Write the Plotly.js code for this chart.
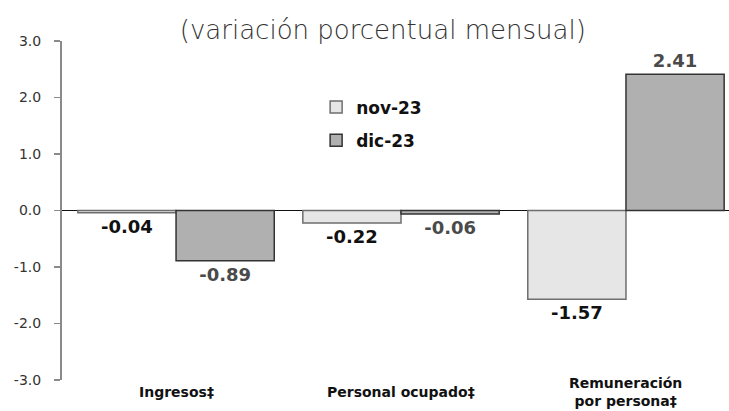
<!DOCTYPE html>
<html>
<head>
<meta charset="utf-8">
<script src="https://cdn.plot.ly/plotly-3.0.1.min.js"></script>
<style>html,body{margin:0;padding:0;background:#fff;}#chart{width:729px;height:411px;}</style>
</head>
<body>
<div id="chart"></div>
<script>
const categories = ["Ingresos‡", "Personal ocupado‡", "Remuneración<br>por persona‡"];
const seriesNames = ["nov-23", "dic-23"];
const nov23 = [-0.04, -0.22, -1.57];
const dic23 = [-0.89, -0.06, 2.41];
const yTicks = [-3, -2, -1, 0, 1, 2, 3];
const yTickLabels = ["-3.0", "-2.0", "-1.0", "0.0", "1.0", "2.0", "3.0"];

const boldFont = "DejaVu Sans, Liberation Sans, sans-serif";

const traces = [
  {
    type: "bar", name: seriesNames[0], x: categories, y: nov23,
    legendgroup: "a",
    marker: {color: "#e6e6e6", line: {color: "#6e6e6e", width: 1.5}},
    text: nov23.map(v => v.toFixed(2)), textposition: "outside", cliponaxis: false,
    textfont: {family: boldFont, size: 18, color: "#111", weight: 700},
    hoverinfo: "skip"
  },
  {
    type: "bar", name: seriesNames[1], x: categories, y: dic23,
    legendgroup: "b",
    marker: {color: "#b0b0b0", line: {color: "#333333", width: 1.5}},
    text: dic23.map(v => v.toFixed(2)), textposition: "outside", cliponaxis: false,
    textfont: {family: boldFont, size: 18, color: "#4a4a4a", weight: 700},
    hoverinfo: "skip"
  }
];

const annotations = categories.map(c => ({
  x: c, xref: "x", y: -0.036, yref: "paper",
  xanchor: "center", yanchor: "middle", showarrow: false,
  text: c, align: "center",
  font: {family: boldFont, size: 14, color: "#111", weight: 700}
}));

const layout = {
  width: 729, height: 411,
  margin: {l: 62, r: 0, t: 41, b: 31},
  paper_bgcolor: "#fff", plot_bgcolor: "#fff",
  title: {
    text: "(variación porcentual mensual)",
    font: {family: "DejaVu Sans ExtraLight, DejaVu Sans, sans-serif", size: 26, color: "#333", weight: 300},
    x: 0.481, xanchor: "center", xref: "paper",
    y: 1 - 30/411, yanchor: "middle", yref: "container"
  },
  barmode: "group", bargap: 0.127, bargroupgap: 0,
  showlegend: true,
  legend: {
    x: 0.381, y: 0.857, xref: "paper", yref: "paper",
    xanchor: "left", yanchor: "top",
    traceorder: "grouped", tracegroupgap: 8,
    font: {family: boldFont, size: 17, color: "#111", weight: 700},
    bgcolor: "rgba(0,0,0,0)"
  },
  annotations: annotations,
  xaxis: {
    type: "category", range: [-0.507, 2.458],
    showline: false, showgrid: false, zeroline: false, ticks: "",
    showticklabels: false,
    fixedrange: true
  },
  yaxis: {
    range: [-3, 3], tickvals: yTicks, ticktext: yTickLabels,
    showgrid: false, zeroline: true, zerolinecolor: "#111", zerolinewidth: 1.5,
    showline: true, linecolor: "#8a8a8a", linewidth: 2,
    ticks: "outside", ticklen: 6, tickcolor: "#8a8a8a", tickwidth: 1.5,
    ticklabelstandoff: 10,
    tickfont: {family: "DejaVu Sans, sans-serif", size: 14, color: "#333"},
    fixedrange: true
  }
};

Plotly.newPlot("chart", traces, layout, {displayModeBar: false, staticPlot: true});
</script>
</body>
</html>
